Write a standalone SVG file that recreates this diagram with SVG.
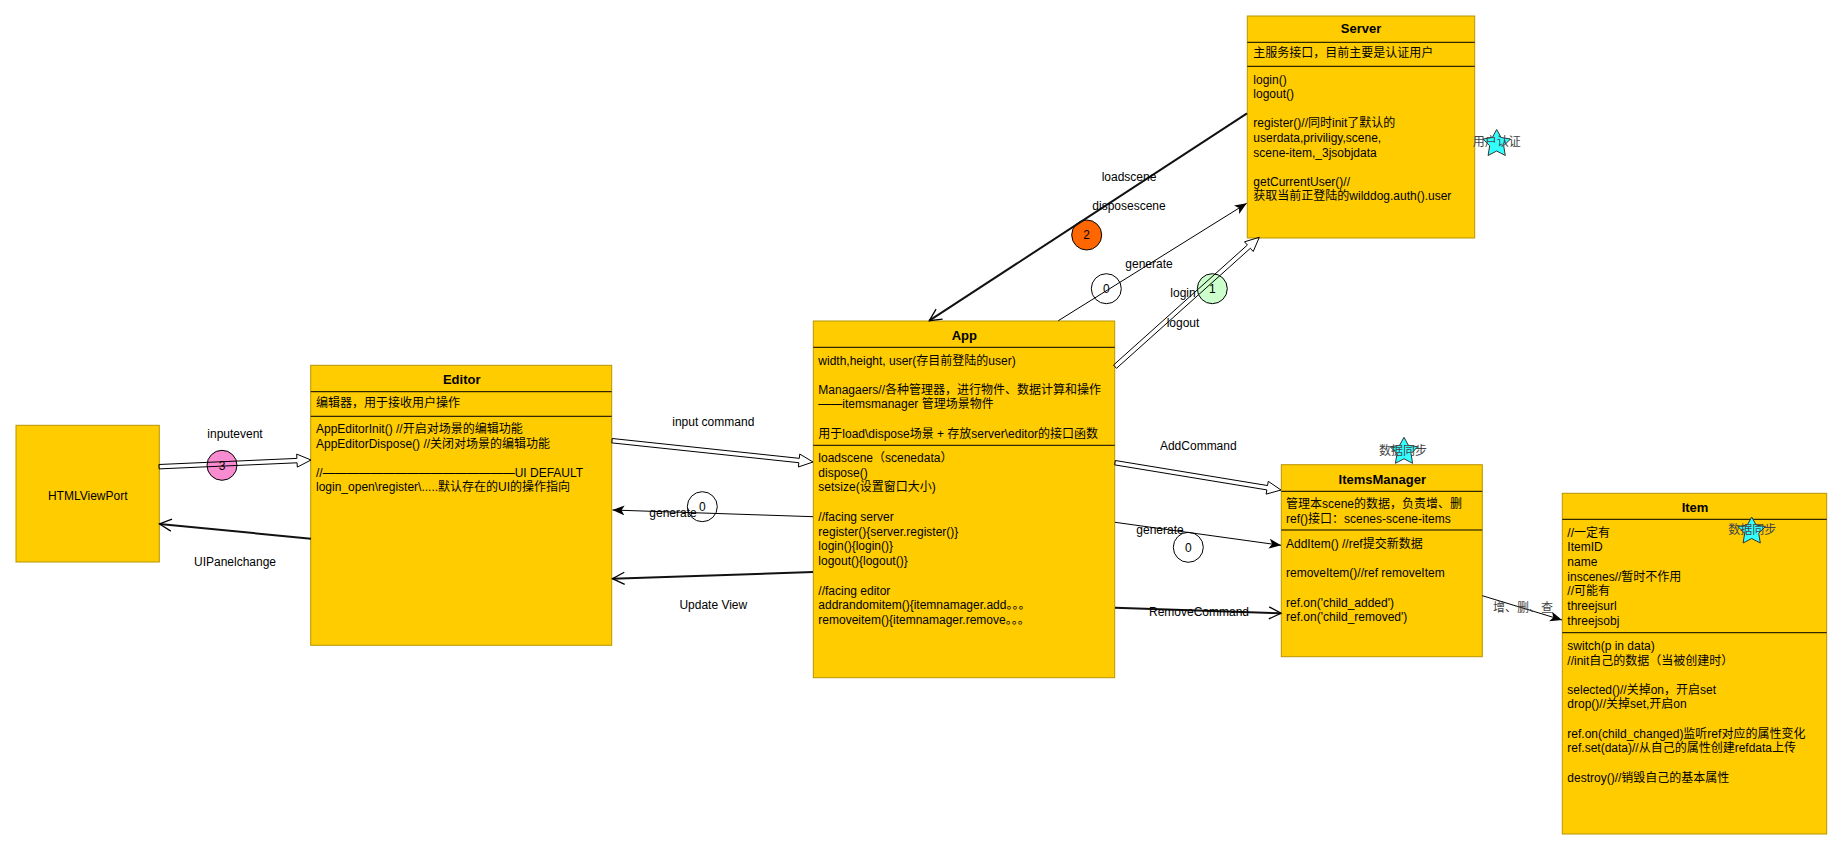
<svg xmlns="http://www.w3.org/2000/svg" xmlns:xlink="http://www.w3.org/1999/xlink" width="1843" height="851" viewBox="0 0 1843 851">
<style>
.box{fill:#FFCC00;stroke:#B89500;stroke-width:1}
.dv{stroke:#000;stroke-width:1}
text{font-family:"Liberation Sans","Noto Sans CJK SC",sans-serif;font-size:12px;fill:#000}
.ttl{font-weight:bold;font-size:13px;text-anchor:middle}
.mid{text-anchor:middle}
.grey{fill:#444}
.ln{fill:none;stroke:#000;stroke-width:1}
.thick{fill:none;stroke:#111;stroke-width:2}
.flex{fill:none;stroke:#000;stroke-width:1;stroke-linejoin:miter}
.star{fill:#33FFFF;stroke:#333;stroke-width:1}
.badge{stroke:#000;stroke-width:1}
</style>
<defs>
<marker id="fill" markerUnits="userSpaceOnUse" markerWidth="14" markerHeight="12" refX="12" refY="5" orient="auto">
<path d="M0,0 L12,5 L0,10 L3,5 z" fill="#000"/>
</marker>
<marker id="open" markerUnits="userSpaceOnUse" markerWidth="16" markerHeight="16" refX="13" refY="7" orient="auto">
<path d="M1,1 L13,7 L1,13" fill="none" stroke="#000" stroke-width="1.3"/>
</marker>
<polygon id="starshape" points="0,-14 4.4,-6 13.8,-4.5 7,2.3 8.6,12 0,7.5 -8.6,12 -7,2.3 -13.8,-4.5 -4.4,-6"/>
</defs>
<rect width="1843" height="851" fill="#fff"/>

<g id="badges">
<circle class="badge" cx="1086.7" cy="235" r="15" fill="#FF6600"/>
<text class="mid" x="1086.7" y="239.3">2</text>
<circle class="badge" cx="1106.3" cy="288.7" r="15" fill="#fff"/>
<text class="mid" x="1106.3" y="293">0</text>
<circle class="badge" cx="1212.3" cy="288.7" r="15" fill="#CCFFCC"/>
<text class="mid" x="1212.3" y="293">1</text>
<circle class="badge" cx="222" cy="465.3" r="15" fill="#F98BD0"/>
<text class="mid" x="222" y="469.6">3</text>
<circle class="badge" cx="702.3" cy="506.7" r="15" fill="#fff"/>
<text class="mid" x="702.3" y="511">0</text>
<circle class="badge" cx="1188.3" cy="547.3" r="15" fill="#fff"/>
<text class="mid" x="1188.3" y="551.6">0</text>
</g>

<g id="HTMLViewPort">
<rect class="box" x="16" y="425.3" width="143.3" height="136.7"/>
<text class="mid" x="87.7" y="499.5">HTMLViewPort</text>
</g>

<g id="Editor">
<rect class="box" x="310.7" y="365.3" width="301" height="280"/>
<line class="dv" x1="310.7" y1="391.7" x2="611.7" y2="391.7"/>
<line class="dv" x1="310.7" y1="416.3" x2="611.7" y2="416.3"/>
<text class="ttl" x="461.7" y="383.8">Editor</text>
<text x="316" y="407.3">编辑器，用于接收用户操作</text>
<text x="316" y="433.3">AppEditorInit() //开启对场景的编辑功能</text>
<text x="316" y="448">AppEditorDispose() //关闭对场景的编辑功能</text>
<text x="316" y="476.7">//————————————————UI DEFAULT</text>
<text x="316" y="491.3">login_open\register\.....默认存在的UI的操作指向</text>
</g>

<g id="App">
<rect class="box" x="813.3" y="321" width="301.4" height="356.7"/>
<line class="dv" x1="813.3" y1="347.3" x2="1114.7" y2="347.3"/>
<line class="dv" x1="813.3" y1="445.3" x2="1114.7" y2="445.3"/>
<text class="ttl" x="964.3" y="339.5">App</text>
<text x="818.3" y="364.7">width,height, user(存目前登陆的user)</text>
<text x="818.3" y="394">Managaers//各种管理器，进行物件、数据计算和操作</text>
<text x="818.3" y="408.3">——itemsmanager 管理场景物件</text>
<text x="818.3" y="438">用于load\dispose场景 + 存放server\editor的接口函数</text>
<text x="818.3" y="461.7">loadscene（scenedata）</text>
<text x="818.3" y="476.5">dispose()</text>
<text x="818.3" y="491.2">setsize(设置窗口大小)</text>
<text x="818.3" y="520.7">//facing server</text>
<text x="818.3" y="535.5">register(){server.register()}</text>
<text x="818.3" y="550.2">login(){login()}</text>
<text x="818.3" y="565">logout(){logout()}</text>
<text x="818.3" y="594.5">//facing editor</text>
<text x="818.3" y="609.2">addrandomitem(){itemnamager.add。。。</text>
<text x="818.3" y="624">removeitem(){itemnamager.remove。。。</text>
</g>

<g id="Server">
<rect class="box" x="1247.3" y="16" width="227.4" height="222"/>
<line class="dv" x1="1247.3" y1="42.3" x2="1474.7" y2="42.3"/>
<line class="dv" x1="1247.3" y1="66.3" x2="1474.7" y2="66.3"/>
<text class="ttl" x="1361" y="33">Server</text>
<text x="1253.3" y="57.3">主服务接口，目前主要是认证用户</text>
<text x="1253.3" y="84">login()</text>
<text x="1253.3" y="98.3">logout()</text>
<text x="1253.3" y="127.3">register()//同时init了默认的</text>
<text x="1253.3" y="142.3">userdata,priviligy,scene,</text>
<text x="1253.3" y="156.7">scene-item,_3jsobjdata</text>
<text x="1253.3" y="185.7">getCurrentUser()//</text>
<text x="1253.3" y="200">获取当前正登陆的wilddog.auth().user</text>
</g>

<g id="ItemsManager">
<rect class="box" x="1281.3" y="464.7" width="201" height="192"/>
<line class="dv" x1="1281.3" y1="491.3" x2="1482.3" y2="491.3"/>
<line class="dv" x1="1281.3" y1="530" x2="1482.3" y2="530"/>
<text class="ttl" x="1382.3" y="484">ItemsManager</text>
<text x="1286" y="508">管理本scene的数据，负责增、删</text>
<text x="1286" y="523">ref()接口：scenes-scene-items</text>
<text x="1286" y="548.3">AddItem() //ref提交新数据</text>
<text x="1286" y="577.3">removeItem()//ref removeItem</text>
<text x="1286" y="607.3">ref.on('child_added')</text>
<text x="1286" y="621.3">ref.on('child_removed')</text>
</g>

<g id="Item">
<rect class="box" x="1562.3" y="493.3" width="264.4" height="340.7"/>
<line class="dv" x1="1562.3" y1="519.3" x2="1826.7" y2="519.3"/>
<line class="dv" x1="1562.3" y1="632.7" x2="1826.7" y2="632.7"/>
<text class="ttl" x="1695" y="512">Item</text>
<text x="1567.3" y="536.7">//一定有</text>
<text x="1567.3" y="551.3">ItemID</text>
<text x="1567.3" y="566">name</text>
<text x="1567.3" y="581.3">inscenes//暂时不作用</text>
<text x="1567.3" y="595">//可能有</text>
<text x="1567.3" y="610.3">threejsurl</text>
<text x="1567.3" y="625.3">threejsobj</text>
<text x="1567.3" y="649.7">switch(p in data)</text>
<text x="1567.3" y="664.7">//init自己的数据（当被创建时）</text>
<text x="1567.3" y="694">selected()//关掉on，开启set</text>
<text x="1567.3" y="708">drop()//关掉set,开启on</text>
<text x="1567.3" y="738.3">ref.on(child_changed)监听ref对应的属性变化</text>
<text x="1567.3" y="752.3">ref.set(data)//从自己的属性创建refdata上传</text>
<text x="1567.3" y="781.7">destroy()//销毁自己的基本属性</text>
</g>

<g id="connectors">
<line class="thick" x1="1247" y1="113.3" x2="929.3" y2="320.7" marker-end="url(#open)" stroke="#333"/>
<line class="ln" x1="1058.3" y1="320.7" x2="1246.7" y2="203.3" marker-end="url(#fill)"/>
<polygon class="flex" points="1116.47,368.34 1250.35,248.29 1253.22,251.49 1259.3,237.3 1244.54,241.81 1247.41,245.01 1113.53,365.06"/>
<polygon class="flex" points="159.1,468.9 297.1,462.8 297.3,467.1 311,460 296.7,454.1 296.9,458.4 158.9,464.5"/>
<line class="thick" x1="311" y1="538.7" x2="159.5" y2="524" marker-end="url(#open)"/>
<polygon class="flex" points="611.77,442.89 798.85,462.71 798.40,466.98 813,462 799.77,454.06 799.31,458.33 612.23,438.51"/>
<line class="ln" x1="813" y1="516.7" x2="612.5" y2="510" marker-end="url(#fill)"/>
<line class="thick" x1="813" y1="572" x2="612.5" y2="578.7" marker-end="url(#open)"/>
<polygon class="flex" points="1114.64,464.87 1266.83,489.90 1266.13,494.14 1281,490 1268.24,481.32 1267.55,485.56 1115.36,460.53"/>
<line class="ln" x1="1115" y1="522.3" x2="1281" y2="545.3" marker-end="url(#fill)"/>
<line class="thick" x1="1115" y1="607.7" x2="1281" y2="613.3" marker-end="url(#open)"/>
<line class="ln" x1="1482.3" y1="595.7" x2="1562" y2="620" marker-end="url(#fill)"/>
</g>

<g id="connector-labels">
<text class="mid" x="1129" y="180.7">loadscene</text>
<text class="mid" x="1129" y="210">disposescene</text>
<text class="mid" x="1149" y="268">generate</text>
<text class="mid" x="1183" y="297">login</text>
<text class="mid" x="1183" y="326.7">logout</text>
<text class="mid" x="235" y="438">inputevent</text>
<text class="mid" x="235" y="566">UIPanelchange</text>
<text class="mid" x="713.3" y="426">input command</text>
<text class="mid" x="673" y="517.3">generate</text>
<text class="mid" x="713.3" y="609.3">Update View</text>
<text class="mid" x="1198.3" y="450">AddCommand</text>
<text class="mid" x="1160" y="534">generate</text>
<text class="mid" x="1199" y="616.3">RemoveCommand</text>
<text class="mid grey" x="1523" y="612.3">增、删、查</text>
</g>

<g id="stars">
<use xlink:href="#starshape" class="star" transform="translate(1496.7,143.5)"/>
<text class="mid grey" x="1496.7" y="146.2">用户认证</text>
<use xlink:href="#starshape" class="star" transform="translate(1404,451.3)"/>
<text class="mid grey" x="1403" y="454.8">数据同步</text>
<use xlink:href="#starshape" class="star" transform="translate(1751.7,531)"/>
<text class="mid grey" x="1752.3" y="534.2">数据同步</text>
</g>
</svg>
